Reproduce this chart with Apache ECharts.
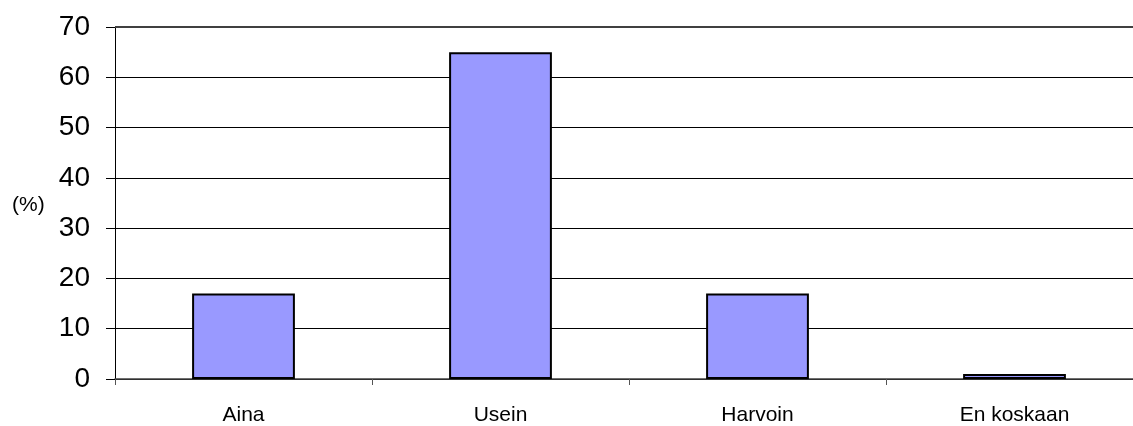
<!DOCTYPE html>
<html>
<head>
<meta charset="utf-8">
<script src="https://cdn.jsdelivr.net/npm/echarts@6/dist/echarts.min.js"></script>
<style>
  html, body { margin: 0; padding: 0; background: #fff; overflow: hidden; }
  /* the plot runs a little past the right edge of the window, so the canvas is wider */
  #chart { width: 1143px; height: 426px; }
</style>
</head>
<body>
<div id="chart"></div>
<script>
// Answer categories and their shares (%)
const categories = ['Aina', 'Usein', 'Harvoin', 'En koskaan'];
const shares = [17, 65, 17, 1];
const yTicks = [0, 10, 20, 30, 40, 50, 60, 70];

const FONT = 'Liberation Sans, Arial, sans-serif';
const chart = echarts.init(document.getElementById('chart'));
chart.setOption({
  animation: false,
  backgroundColor: '#ffffff',
  textStyle: { fontFamily: FONT },
  grid: { left: 115, top: 27, right: 0, bottom: 47, containLabel: false },
  graphic: [{
    type: 'line',
    shape: { x1: 115, y1: 27, x2: 1143, y2: 27 },
    style: { stroke: '#404040', lineWidth: 2 },
    z: 10
  }, {
    type: 'text',
    left: 12,
    top: 195,
    style: { text: '(%)', font: '21px ' + FONT, fill: '#000' }
  }],
  xAxis: {
    type: 'category',
    data: categories,
    axisLine: { show: true, lineStyle: { color: '#404040', width: 1.5 } },
    axisTick: { show: true, length: 6, alignWithLabel: false, lineStyle: { color: '#555' } },
    axisLabel: { color: '#000', fontSize: 21, margin: 26 },
    splitLine: { show: false }
  },
  yAxis: {
    type: 'value',
    min: yTicks[0],
    max: yTicks[yTicks.length - 1],
    interval: 10,
    axisLine: { show: true, lineStyle: { color: '#000', width: 1 } },
    axisTick: { show: true, length: 9, lineStyle: { color: '#000' } },
    axisLabel: { color: '#000', fontSize: 28, margin: 25 },
    splitLine: { show: true, lineStyle: { color: '#000', width: 1 } }
  },
  series: [{
    type: 'bar',
    data: shares,
    barWidth: '40%',
    itemStyle: { color: '#9999ff', borderColor: '#000', borderWidth: 2 }
  }]
});
</script>
</body>
</html>
